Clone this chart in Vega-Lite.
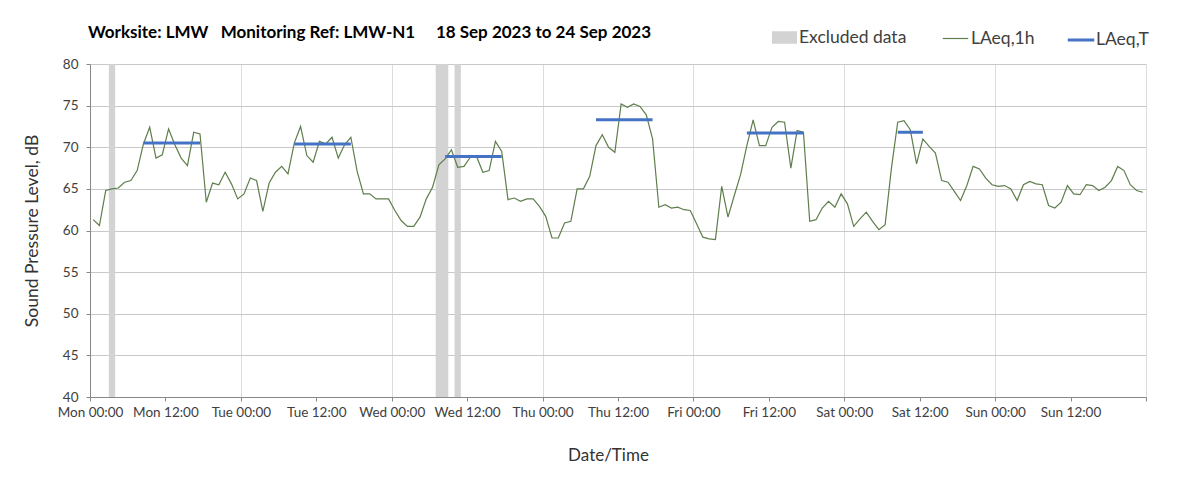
{
  "$schema": "https://vega.github.io/schema/vega-lite/v6.json",
  "width": 1056,
  "height": 333,
  "autosize": {"type": "none"},
  "padding": {"left": 90, "top": 64, "right": 57, "bottom": 93},
  "background": "white",
  "config": {"font": "Lato", "view": {"stroke": null}},
  "title": {
    "text": "Worksite: LMW\u00a0\u00a0\u00a0Monitoring Ref: LMW-N1\u00a0\u00a0\u00a0\u00a0\u00a018 Sep 2023 to 24 Sep 2023",
    "anchor": "start", "frame": "group", "fontSize": 17, "fontWeight": "bold", "color": "#000000", "offset": -17, "dx": -2
  },
  "datasets": {
    "excluded": [
      {"t": "2023-09-18T03:00Z", "t2": "2023-09-18T04:00Z", "series": "Excluded data"},
      {"t": "2023-09-20T07:00Z", "t2": "2023-09-20T09:00Z", "series": "Excluded data"},
      {"t": "2023-09-20T10:00Z", "t2": "2023-09-20T11:00Z", "series": "Excluded data"}
    ],
    "laeqT": [
      {"period": "Mon", "t": "2023-09-18T08:30Z", "v": 70.5, "series": "LAeq,T"},
      {"period": "Mon", "t": "2023-09-18T17:30Z", "v": 70.5, "series": "LAeq,T"},
      {"period": "Tue", "t": "2023-09-19T08:30Z", "v": 70.4, "series": "LAeq,T"},
      {"period": "Tue", "t": "2023-09-19T17:30Z", "v": 70.4, "series": "LAeq,T"},
      {"period": "Wed", "t": "2023-09-20T08:30Z", "v": 68.9, "series": "LAeq,T"},
      {"period": "Wed", "t": "2023-09-20T17:30Z", "v": 68.9, "series": "LAeq,T"},
      {"period": "Thu", "t": "2023-09-21T08:30Z", "v": 73.3, "series": "LAeq,T"},
      {"period": "Thu", "t": "2023-09-21T17:30Z", "v": 73.3, "series": "LAeq,T"},
      {"period": "Fri", "t": "2023-09-22T08:30Z", "v": 71.7, "series": "LAeq,T"},
      {"period": "Fri", "t": "2023-09-22T17:30Z", "v": 71.7, "series": "LAeq,T"},
      {"period": "Sat", "t": "2023-09-23T08:30Z", "v": 71.8, "series": "LAeq,T"},
      {"period": "Sat", "t": "2023-09-23T12:30Z", "v": 71.8, "series": "LAeq,T"}
    ],
    "laeq1h": [
      {"t": "2023-09-18T00:30Z", "v": 61.3, "series": "LAeq,1h"},
      {"t": "2023-09-18T01:30Z", "v": 60.6, "series": "LAeq,1h"},
      {"t": "2023-09-18T02:30Z", "v": 64.8, "series": "LAeq,1h"},
      {"t": "2023-09-18T03:30Z", "v": 65.0, "series": "LAeq,1h"},
      {"t": "2023-09-18T04:30Z", "v": 65.1, "series": "LAeq,1h"},
      {"t": "2023-09-18T05:30Z", "v": 65.8, "series": "LAeq,1h"},
      {"t": "2023-09-18T06:30Z", "v": 66.0, "series": "LAeq,1h"},
      {"t": "2023-09-18T07:30Z", "v": 67.2, "series": "LAeq,1h"},
      {"t": "2023-09-18T08:30Z", "v": 70.4, "series": "LAeq,1h"},
      {"t": "2023-09-18T09:30Z", "v": 72.4, "series": "LAeq,1h"},
      {"t": "2023-09-18T10:30Z", "v": 68.7, "series": "LAeq,1h"},
      {"t": "2023-09-18T11:30Z", "v": 69.1, "series": "LAeq,1h"},
      {"t": "2023-09-18T12:30Z", "v": 72.2, "series": "LAeq,1h"},
      {"t": "2023-09-18T13:30Z", "v": 70.3, "series": "LAeq,1h"},
      {"t": "2023-09-18T14:30Z", "v": 68.7, "series": "LAeq,1h"},
      {"t": "2023-09-18T15:30Z", "v": 67.8, "series": "LAeq,1h"},
      {"t": "2023-09-18T16:30Z", "v": 71.8, "series": "LAeq,1h"},
      {"t": "2023-09-18T17:30Z", "v": 71.6, "series": "LAeq,1h"},
      {"t": "2023-09-18T18:30Z", "v": 63.4, "series": "LAeq,1h"},
      {"t": "2023-09-18T19:30Z", "v": 65.7, "series": "LAeq,1h"},
      {"t": "2023-09-18T20:30Z", "v": 65.5, "series": "LAeq,1h"},
      {"t": "2023-09-18T21:30Z", "v": 67.0, "series": "LAeq,1h"},
      {"t": "2023-09-18T22:30Z", "v": 65.6, "series": "LAeq,1h"},
      {"t": "2023-09-18T23:30Z", "v": 63.8, "series": "LAeq,1h"},
      {"t": "2023-09-19T00:30Z", "v": 64.4, "series": "LAeq,1h"},
      {"t": "2023-09-19T01:30Z", "v": 66.3, "series": "LAeq,1h"},
      {"t": "2023-09-19T02:30Z", "v": 66.0, "series": "LAeq,1h"},
      {"t": "2023-09-19T03:30Z", "v": 62.3, "series": "LAeq,1h"},
      {"t": "2023-09-19T04:30Z", "v": 65.7, "series": "LAeq,1h"},
      {"t": "2023-09-19T05:30Z", "v": 67.0, "series": "LAeq,1h"},
      {"t": "2023-09-19T06:30Z", "v": 67.7, "series": "LAeq,1h"},
      {"t": "2023-09-19T07:30Z", "v": 66.8, "series": "LAeq,1h"},
      {"t": "2023-09-19T08:30Z", "v": 70.5, "series": "LAeq,1h"},
      {"t": "2023-09-19T09:30Z", "v": 72.5, "series": "LAeq,1h"},
      {"t": "2023-09-19T10:30Z", "v": 69.0, "series": "LAeq,1h"},
      {"t": "2023-09-19T11:30Z", "v": 68.2, "series": "LAeq,1h"},
      {"t": "2023-09-19T12:30Z", "v": 70.7, "series": "LAeq,1h"},
      {"t": "2023-09-19T13:30Z", "v": 70.4, "series": "LAeq,1h"},
      {"t": "2023-09-19T14:30Z", "v": 71.2, "series": "LAeq,1h"},
      {"t": "2023-09-19T15:30Z", "v": 68.7, "series": "LAeq,1h"},
      {"t": "2023-09-19T16:30Z", "v": 70.3, "series": "LAeq,1h"},
      {"t": "2023-09-19T17:30Z", "v": 71.2, "series": "LAeq,1h"},
      {"t": "2023-09-19T18:30Z", "v": 67.1, "series": "LAeq,1h"},
      {"t": "2023-09-19T19:30Z", "v": 64.4, "series": "LAeq,1h"},
      {"t": "2023-09-19T20:30Z", "v": 64.4, "series": "LAeq,1h"},
      {"t": "2023-09-19T21:30Z", "v": 63.8, "series": "LAeq,1h"},
      {"t": "2023-09-19T22:30Z", "v": 63.8, "series": "LAeq,1h"},
      {"t": "2023-09-19T23:30Z", "v": 63.8, "series": "LAeq,1h"},
      {"t": "2023-09-20T00:30Z", "v": 62.4, "series": "LAeq,1h"},
      {"t": "2023-09-20T01:30Z", "v": 61.2, "series": "LAeq,1h"},
      {"t": "2023-09-20T02:30Z", "v": 60.5, "series": "LAeq,1h"},
      {"t": "2023-09-20T03:30Z", "v": 60.5, "series": "LAeq,1h"},
      {"t": "2023-09-20T04:30Z", "v": 61.6, "series": "LAeq,1h"},
      {"t": "2023-09-20T05:30Z", "v": 63.8, "series": "LAeq,1h"},
      {"t": "2023-09-20T06:30Z", "v": 65.2, "series": "LAeq,1h"},
      {"t": "2023-09-20T07:30Z", "v": 67.9, "series": "LAeq,1h"},
      {"t": "2023-09-20T08:30Z", "v": 68.6, "series": "LAeq,1h"},
      {"t": "2023-09-20T09:30Z", "v": 69.7, "series": "LAeq,1h"},
      {"t": "2023-09-20T10:30Z", "v": 67.6, "series": "LAeq,1h"},
      {"t": "2023-09-20T11:30Z", "v": 67.7, "series": "LAeq,1h"},
      {"t": "2023-09-20T12:30Z", "v": 68.8, "series": "LAeq,1h"},
      {"t": "2023-09-20T13:30Z", "v": 68.9, "series": "LAeq,1h"},
      {"t": "2023-09-20T14:30Z", "v": 67.0, "series": "LAeq,1h"},
      {"t": "2023-09-20T15:30Z", "v": 67.2, "series": "LAeq,1h"},
      {"t": "2023-09-20T16:30Z", "v": 70.7, "series": "LAeq,1h"},
      {"t": "2023-09-20T17:30Z", "v": 69.5, "series": "LAeq,1h"},
      {"t": "2023-09-20T18:30Z", "v": 63.7, "series": "LAeq,1h"},
      {"t": "2023-09-20T19:30Z", "v": 63.9, "series": "LAeq,1h"},
      {"t": "2023-09-20T20:30Z", "v": 63.5, "series": "LAeq,1h"},
      {"t": "2023-09-20T21:30Z", "v": 63.8, "series": "LAeq,1h"},
      {"t": "2023-09-20T22:30Z", "v": 63.8, "series": "LAeq,1h"},
      {"t": "2023-09-20T23:30Z", "v": 62.9, "series": "LAeq,1h"},
      {"t": "2023-09-21T00:30Z", "v": 61.7, "series": "LAeq,1h"},
      {"t": "2023-09-21T01:30Z", "v": 59.1, "series": "LAeq,1h"},
      {"t": "2023-09-21T02:30Z", "v": 59.1, "series": "LAeq,1h"},
      {"t": "2023-09-21T03:30Z", "v": 60.9, "series": "LAeq,1h"},
      {"t": "2023-09-21T04:30Z", "v": 61.1, "series": "LAeq,1h"},
      {"t": "2023-09-21T05:30Z", "v": 65.0, "series": "LAeq,1h"},
      {"t": "2023-09-21T06:30Z", "v": 65.0, "series": "LAeq,1h"},
      {"t": "2023-09-21T07:30Z", "v": 66.5, "series": "LAeq,1h"},
      {"t": "2023-09-21T08:30Z", "v": 70.2, "series": "LAeq,1h"},
      {"t": "2023-09-21T09:30Z", "v": 71.5, "series": "LAeq,1h"},
      {"t": "2023-09-21T10:30Z", "v": 70.0, "series": "LAeq,1h"},
      {"t": "2023-09-21T11:30Z", "v": 69.4, "series": "LAeq,1h"},
      {"t": "2023-09-21T12:30Z", "v": 75.2, "series": "LAeq,1h"},
      {"t": "2023-09-21T13:30Z", "v": 74.8, "series": "LAeq,1h"},
      {"t": "2023-09-21T14:30Z", "v": 75.2, "series": "LAeq,1h"},
      {"t": "2023-09-21T15:30Z", "v": 74.9, "series": "LAeq,1h"},
      {"t": "2023-09-21T16:30Z", "v": 73.9, "series": "LAeq,1h"},
      {"t": "2023-09-21T17:30Z", "v": 71.0, "series": "LAeq,1h"},
      {"t": "2023-09-21T18:30Z", "v": 62.8, "series": "LAeq,1h"},
      {"t": "2023-09-21T19:30Z", "v": 63.1, "series": "LAeq,1h"},
      {"t": "2023-09-21T20:30Z", "v": 62.7, "series": "LAeq,1h"},
      {"t": "2023-09-21T21:30Z", "v": 62.8, "series": "LAeq,1h"},
      {"t": "2023-09-21T22:30Z", "v": 62.5, "series": "LAeq,1h"},
      {"t": "2023-09-21T23:30Z", "v": 62.4, "series": "LAeq,1h"},
      {"t": "2023-09-22T00:30Z", "v": 60.8, "series": "LAeq,1h"},
      {"t": "2023-09-22T01:30Z", "v": 59.2, "series": "LAeq,1h"},
      {"t": "2023-09-22T02:30Z", "v": 59.0, "series": "LAeq,1h"},
      {"t": "2023-09-22T03:30Z", "v": 58.9, "series": "LAeq,1h"},
      {"t": "2023-09-22T04:30Z", "v": 65.3, "series": "LAeq,1h"},
      {"t": "2023-09-22T05:30Z", "v": 61.6, "series": "LAeq,1h"},
      {"t": "2023-09-22T06:30Z", "v": 64.2, "series": "LAeq,1h"},
      {"t": "2023-09-22T07:30Z", "v": 66.7, "series": "LAeq,1h"},
      {"t": "2023-09-22T08:30Z", "v": 70.2, "series": "LAeq,1h"},
      {"t": "2023-09-22T09:30Z", "v": 73.3, "series": "LAeq,1h"},
      {"t": "2023-09-22T10:30Z", "v": 70.2, "series": "LAeq,1h"},
      {"t": "2023-09-22T11:30Z", "v": 70.2, "series": "LAeq,1h"},
      {"t": "2023-09-22T12:30Z", "v": 72.4, "series": "LAeq,1h"},
      {"t": "2023-09-22T13:30Z", "v": 73.1, "series": "LAeq,1h"},
      {"t": "2023-09-22T14:30Z", "v": 73.0, "series": "LAeq,1h"},
      {"t": "2023-09-22T15:30Z", "v": 67.5, "series": "LAeq,1h"},
      {"t": "2023-09-22T16:30Z", "v": 72.0, "series": "LAeq,1h"},
      {"t": "2023-09-22T17:30Z", "v": 71.8, "series": "LAeq,1h"},
      {"t": "2023-09-22T18:30Z", "v": 61.1, "series": "LAeq,1h"},
      {"t": "2023-09-22T19:30Z", "v": 61.3, "series": "LAeq,1h"},
      {"t": "2023-09-22T20:30Z", "v": 62.7, "series": "LAeq,1h"},
      {"t": "2023-09-22T21:30Z", "v": 63.5, "series": "LAeq,1h"},
      {"t": "2023-09-22T22:30Z", "v": 62.8, "series": "LAeq,1h"},
      {"t": "2023-09-22T23:30Z", "v": 64.4, "series": "LAeq,1h"},
      {"t": "2023-09-23T00:30Z", "v": 63.2, "series": "LAeq,1h"},
      {"t": "2023-09-23T01:30Z", "v": 60.5, "series": "LAeq,1h"},
      {"t": "2023-09-23T02:30Z", "v": 61.4, "series": "LAeq,1h"},
      {"t": "2023-09-23T03:30Z", "v": 62.2, "series": "LAeq,1h"},
      {"t": "2023-09-23T04:30Z", "v": 61.1, "series": "LAeq,1h"},
      {"t": "2023-09-23T05:30Z", "v": 60.1, "series": "LAeq,1h"},
      {"t": "2023-09-23T06:30Z", "v": 60.7, "series": "LAeq,1h"},
      {"t": "2023-09-23T07:30Z", "v": 67.5, "series": "LAeq,1h"},
      {"t": "2023-09-23T08:30Z", "v": 73.0, "series": "LAeq,1h"},
      {"t": "2023-09-23T09:30Z", "v": 73.2, "series": "LAeq,1h"},
      {"t": "2023-09-23T10:30Z", "v": 72.1, "series": "LAeq,1h"},
      {"t": "2023-09-23T11:30Z", "v": 68.0, "series": "LAeq,1h"},
      {"t": "2023-09-23T12:30Z", "v": 71.0, "series": "LAeq,1h"},
      {"t": "2023-09-23T13:30Z", "v": 70.1, "series": "LAeq,1h"},
      {"t": "2023-09-23T14:30Z", "v": 69.3, "series": "LAeq,1h"},
      {"t": "2023-09-23T15:30Z", "v": 66.0, "series": "LAeq,1h"},
      {"t": "2023-09-23T16:30Z", "v": 65.8, "series": "LAeq,1h"},
      {"t": "2023-09-23T17:30Z", "v": 64.7, "series": "LAeq,1h"},
      {"t": "2023-09-23T18:30Z", "v": 63.6, "series": "LAeq,1h"},
      {"t": "2023-09-23T19:30Z", "v": 65.4, "series": "LAeq,1h"},
      {"t": "2023-09-23T20:30Z", "v": 67.7, "series": "LAeq,1h"},
      {"t": "2023-09-23T21:30Z", "v": 67.4, "series": "LAeq,1h"},
      {"t": "2023-09-23T22:30Z", "v": 66.3, "series": "LAeq,1h"},
      {"t": "2023-09-23T23:30Z", "v": 65.5, "series": "LAeq,1h"},
      {"t": "2023-09-24T00:30Z", "v": 65.3, "series": "LAeq,1h"},
      {"t": "2023-09-24T01:30Z", "v": 65.4, "series": "LAeq,1h"},
      {"t": "2023-09-24T02:30Z", "v": 65.0, "series": "LAeq,1h"},
      {"t": "2023-09-24T03:30Z", "v": 63.6, "series": "LAeq,1h"},
      {"t": "2023-09-24T04:30Z", "v": 65.5, "series": "LAeq,1h"},
      {"t": "2023-09-24T05:30Z", "v": 65.9, "series": "LAeq,1h"},
      {"t": "2023-09-24T06:30Z", "v": 65.6, "series": "LAeq,1h"},
      {"t": "2023-09-24T07:30Z", "v": 65.5, "series": "LAeq,1h"},
      {"t": "2023-09-24T08:30Z", "v": 63.0, "series": "LAeq,1h"},
      {"t": "2023-09-24T09:30Z", "v": 62.7, "series": "LAeq,1h"},
      {"t": "2023-09-24T10:30Z", "v": 63.4, "series": "LAeq,1h"},
      {"t": "2023-09-24T11:30Z", "v": 65.4, "series": "LAeq,1h"},
      {"t": "2023-09-24T12:30Z", "v": 64.4, "series": "LAeq,1h"},
      {"t": "2023-09-24T13:30Z", "v": 64.3, "series": "LAeq,1h"},
      {"t": "2023-09-24T14:30Z", "v": 65.5, "series": "LAeq,1h"},
      {"t": "2023-09-24T15:30Z", "v": 65.4, "series": "LAeq,1h"},
      {"t": "2023-09-24T16:30Z", "v": 64.8, "series": "LAeq,1h"},
      {"t": "2023-09-24T17:30Z", "v": 65.2, "series": "LAeq,1h"},
      {"t": "2023-09-24T18:30Z", "v": 66.0, "series": "LAeq,1h"},
      {"t": "2023-09-24T19:30Z", "v": 67.7, "series": "LAeq,1h"},
      {"t": "2023-09-24T20:30Z", "v": 67.2, "series": "LAeq,1h"},
      {"t": "2023-09-24T21:30Z", "v": 65.5, "series": "LAeq,1h"},
      {"t": "2023-09-24T22:30Z", "v": 64.8, "series": "LAeq,1h"},
      {"t": "2023-09-24T23:30Z", "v": 64.6, "series": "LAeq,1h"}
    ]
  },
  "encoding": {
    "x": {
      "field": "t", "type": "temporal",
      "scale": {"type": "utc", "domain": [1694995200000, 1695600000000]},
      "axis": {
        "title": "Date/Time", "titleFontSize": 17, "titleFontWeight": "normal", "titleColor": "#333333",
        "titleX": 518, "titleY": 50, "titleBaseline": "top", "titleAnchor": "middle",
        "values": [1694995200000, 1695038400000, 1695081600000, 1695124800000, 1695168000000, 1695211200000, 1695254400000, 1695297600000, 1695340800000, 1695384000000, 1695427200000, 1695470400000, 1695513600000, 1695556800000, 1695600000000],
        "labelExpr": "datum.value >= 1695600000000 ? '' : utcFormat(datum.value, '%a %H:%M')",
        "labelFontSize": 13.5, "labelColor": "#404040", "labelPadding": 4, "labelFlush": false, "labelOverlap": false,
        "tickSize": 4, "tickColor": "#888888", "domainColor": "#888888",
        "grid": true, "gridColor": "#dcdcdc",
        "gridOpacity": {"condition": {"test": "utchours(datum.value) === 0", "value": 1}, "value": 0}
      }
    }
  },
  "layer": [
    {
      "data": {"name": "excluded"},
      "mark": {"type": "rect", "opacity": 1},
      "encoding": {
        "x2": {"field": "t2"},
        "color": {
          "field": "series", "type": "nominal",
          "scale": {"range": ["#d3d3d3"]},
          "legend": {"orient": "none", "legendX": 682, "legendY": -39, "title": null, "padding": 0,
            "symbolType": "M-1,-0.5H1V0.5H-1Z", "symbolSize": 625, "symbolStrokeWidth": 0,
            "labelFontSize": 17.5, "labelColor": "#404040", "labelOffset": 2}
        }
      }
    },
    {
      "data": {"name": "laeq1h"},
      "mark": {"type": "line", "strokeWidth": 1.2},
      "encoding": {
        "y": {
          "field": "v", "type": "quantitative",
          "scale": {"domain": [40, 80], "nice": false, "zero": false},
          "axis": {"title": "Sound Pressure Level, dB", "titleFontSize": 17.5, "titleFontWeight": "normal", "titleColor": "#333333", "titlePadding": 21,
            "values": [40, 45, 50, 55, 60, 65, 70, 75, 80], "labelFontSize": 13.5, "labelColor": "#404040", "labelPadding": 8,
            "tickSize": 4, "tickColor": "#888888", "domainColor": "#888888", "gridColor": "#c8c8c8"}
        },
        "color": {
          "field": "series", "type": "nominal",
          "scale": {"range": ["#5e7e4c"]},
          "legend": {"orient": "none", "legendX": 852, "legendY": -39, "title": null, "padding": 0,
            "symbolType": "stroke", "symbolSize": 650, "symbolStrokeWidth": 1.2,
            "labelFontSize": 17.5, "labelColor": "#404040", "labelOffset": 2}
        }
      }
    },
    {
      "data": {"name": "laeqT"},
      "mark": {"type": "line", "strokeWidth": 3},
      "encoding": {
        "y": {"field": "v", "type": "quantitative", "scale": {"domain": [40, 80], "nice": false, "zero": false}, "axis": {"title": "Sound Pressure Level, dB"}},
        "detail": {"field": "period"},
        "color": {
          "field": "series", "type": "nominal",
          "scale": {"range": ["#4472c4"]},
          "legend": {"orient": "none", "legendX": 976, "legendY": -39, "title": null, "padding": 0,
            "symbolType": "stroke", "symbolSize": 700, "symbolStrokeWidth": 3,
            "labelFontSize": 17.5, "labelColor": "#404040", "labelOffset": 0}
        }
      }
    }
  ],
  "resolve": {"scale": {"color": "independent"}, "legend": {"color": "independent"}}
}
